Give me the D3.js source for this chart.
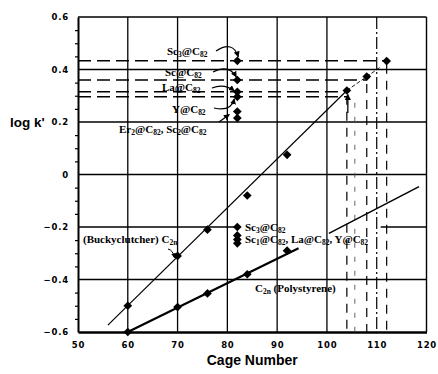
<!DOCTYPE html>
<html><head><meta charset="utf-8">
<script src="https://cdn.jsdelivr.net/npm/d3@7"></script>
<style>body{margin:0;background:#fff}svg{display:block}</style>
</head><body>
<svg id="c" width="438" height="374"></svg>
<script>
// ---- data ----
const xTicks = [50, 60, 70, 80, 90, 100, 110, 120];
const yTicks = [-0.6, -0.4, -0.2, 0, 0.2, 0.4, 0.6];
const cageBucky = [60, 70, 76, 84, 92];
const logkBucky = [-0.5, -0.31, -0.21, -0.08, 0.075];
const cagePoly = [60, 70, 76, 84, 92];
const logkPoly = [-0.6, -0.505, -0.453, -0.38, -0.29];
const metalCage = 82;
const metalBucky = [0.433, 0.36, 0.315, 0.296, 0.24, 0.215];
const metalPoly = [-0.2, -0.232, -0.248, -0.262];
const projCage = [112, 108, 104, 104];
const projLogk = [0.433, 0.36, 0.315, 0.296];
const fitBucky = [[56, -0.574], [104, 0.32]];
const fitBuckyExt = [[104, 0.32], [110.8, 0.41]];
const fitPoly = [[60, -0.6], [94.3, -0.281]];
const fitPolyExt = [[100.4, -0.224], [118.5, -0.046]];
const labelsBucky = ["Sc_{3}@C_{82}", "Sc@C_{82}", "La@C_{82}", "Y@C_{82}", "Er_{2}@C_{82}, Sc_{2}@C_{82}"];
const labelsPoly = ["Sc_{3}@C_{82}", "Sc_{1}@C_{82}, La@C_{82}, Y@C_{82}"];
const seriesLabels = ["(Buckyclutcher) C_{2n}", "C_{2n} (Polystyrene)"];

// ---- chart ----
const svg = d3.select("#c");
const x = d3.scaleLinear().domain([50, 120]).range([78, 426.5]);
const y = d3.scaleLinear().domain([-0.6, 0.6]).range([332, 17]);
const serif = "'Liberation Serif','Times New Roman',serif";

const defs = svg.append("defs");
defs.append("marker").attr("id", "ah").attr("viewBox", "0 0 10 10")
  .attr("refX", 9).attr("refY", 5).attr("markerWidth", 5).attr("markerHeight", 5)
  .attr("orient", "auto-start-reverse")
  .append("path").attr("d", "M0,0L10,5L0,10z").attr("fill", "#000");

// gridlines
const g = svg.append("g");
xTicks.filter(t => t > 50 && t < 110).forEach(t => {
  g.append("line").attr("x1", x(t)).attr("x2", x(t)).attr("y1", y(0.6)).attr("y2", y(-0.6))
    .attr("stroke", "#000").attr("stroke-width", 1.3);
});
g.append("line").attr("x1", x(110)).attr("x2", x(110)).attr("y1", y(0.6)).attr("y2", y(-0.6))
  .attr("stroke", "#000").attr("stroke-width", 1.2).attr("stroke-dasharray", "12,3,2,3");
yTicks.filter(t => t > -0.6 && t < 0.6 && t !== -0.2).forEach(t => {
  g.append("line").attr("x1", x(50)).attr("x2", x(120)).attr("y1", y(t)).attr("y2", y(t))
    .attr("stroke", "#000").attr("stroke-width", 1.3);
});
// -0.2 gridline broken by the labels
[[50, metalCage], [110.8, 120]].forEach(([a, b]) => {
  g.append("line").attr("x1", x(a)).attr("x2", x(b)).attr("y1", y(-0.2)).attr("y2", y(-0.2))
    .attr("stroke", "#000").attr("stroke-width", 1.3);
});
// frame top/right
g.append("line").attr("x1", x(50)).attr("x2", x(120)).attr("y1", y(0.6)).attr("y2", y(0.6)).attr("stroke", "#000").attr("stroke-width", 1.6);
g.append("line").attr("x1", x(120)).attr("x2", x(120)).attr("y1", y(0.6)).attr("y2", y(-0.6)).attr("stroke", "#000").attr("stroke-width", 1.4);

// axes
const fmtY = d => d === 0 ? "0" : (d < 0 ? "\u2212" : "") + Math.abs(d).toFixed(1);
const ax = svg.append("g").attr("transform", `translate(${x(50)},0)`)
  .call(d3.axisLeft(y).tickValues(yTicks).tickSize(0).tickPadding(9).tickFormat(fmtY));
ax.select(".domain").attr("stroke-width", 2);
ax.selectAll("text").attr("font-family", "'DejaVu Sans',sans-serif").attr("font-weight", "bold")
  .attr("font-size", 8.5).attr("letter-spacing", 0.8).attr("fill", "#000");
svg.append("g").attr("transform", `translate(${x(50)},0)`)
  .call(d3.axisLeft(y).tickValues(d3.range(-0.55, 0.6, 0.05).filter(v => Math.abs(Math.round(v * 100)) % 20 !== 0)).tickSize(3).tickFormat(""))
  .call(s => s.select(".domain").remove())
  .selectAll("line").attr("stroke-width", 1.2);
const bx = svg.append("g").attr("transform", `translate(0,${y(-0.6)})`)
  .call(d3.axisBottom(x).tickValues(xTicks).tickSize(0).tickPadding(10).tickFormat(d3.format("d")));
bx.select(".domain").attr("stroke-width", 2.4);
bx.selectAll("text").attr("font-family", "'DejaVu Sans',sans-serif").attr("font-weight", "bold")
  .attr("font-size", 8.5).attr("letter-spacing", 0.8).attr("fill", "#000");

svg.append("text").attr("x", 10).attr("y", 127).text("log k'")
  .attr("font-family", "'Liberation Sans',Arial,sans-serif").attr("font-weight", "bold").attr("font-size", 13.5);
svg.append("text").attr("x", (x(50) + x(120)) / 2).attr("y", 365).attr("text-anchor", "middle").text("Cage Number")
  .attr("font-family", "'Liberation Sans',Arial,sans-serif").attr("font-weight", "bold").attr("font-size", 14);

// dashed projections
const dash = "13,6";
projCage.forEach((c, i) => {
  svg.append("line").attr("x1", x(50)).attr("x2", x(c)).attr("y1", y(projLogk[i])).attr("y2", y(projLogk[i]))
    .attr("stroke", "#000").attr("stroke-width", 1.5).attr("stroke-dasharray", dash);
});
[112, 108, 104].forEach((c, i) => {
  const v = projLogk[i];
  svg.append("line").attr("x1", x(c)).attr("x2", x(c)).attr("y1", y(v) + 4).attr("y2", y(-0.6))
    .attr("stroke", "#000").attr("stroke-width", 1.2).attr("stroke-dasharray", "9,7");
});
svg.append("line").attr("x1", x(105.6)).attr("x2", x(105.6)).attr("y1", y(0.296) + 6).attr("y2", y(-0.6))
  .attr("stroke", "#555").attr("stroke-width", 0.9).attr("stroke-dasharray", "5,9");
// arrow up to the 104 point
svg.append("line").attr("x1", x(104.2)).attr("x2", x(104.2)).attr("y1", y(0.234)).attr("y2", y(0.305))
  .attr("stroke", "#000").attr("stroke-width", 1.3).attr("marker-end", "url(#ah)");

// fit lines
const line = d3.line().x(d => x(d[0])).y(d => y(d[1]));
svg.append("path").attr("d", line(fitBucky)).attr("fill", "none").attr("stroke", "#000").attr("stroke-width", 1.2);
svg.append("path").attr("d", line(fitBuckyExt)).attr("fill", "none").attr("stroke", "#000").attr("stroke-width", 0.9).attr("stroke-dasharray", "4,2");
svg.append("path").attr("d", line(fitPoly)).attr("fill", "none").attr("stroke", "#000").attr("stroke-width", 2.2);
svg.append("path").attr("d", line(fitPolyExt)).attr("fill", "none").attr("stroke", "#000").attr("stroke-width", 1.5);

// markers
const sym = d3.symbol().type(d3.symbolSquare).size(38);
function pts(xs, ys) {
  svg.append("g").selectAll("path").data(ys).join("path")
    .attr("d", sym).attr("fill", "#000")
    .attr("transform", (d, i) => `translate(${x(Array.isArray(xs) ? xs[i] : xs)},${y(d)}) rotate(45)`);
}
pts(cageBucky, logkBucky);
pts(cagePoly, logkPoly);
pts(metalCage, metalBucky);
pts(metalCage, metalPoly);
pts([104, 108, 112], [0.32, 0.373, 0.432]);

// labels with subscripts
function label(str, px, py, size = 11) {
  const t = svg.append("text").attr("x", px).attr("y", py)
    .attr("font-family", serif).attr("font-weight", "bold").attr("font-size", size).attr("fill", "#000");
  const re = /_\{([^}]*)\}/g;
  let last = 0, m, shifted = false;
  while ((m = re.exec(str)) !== null) {
    if (m.index > last) t.append("tspan").attr("dy", shifted ? -2 : 0).text(str.slice(last, m.index)), shifted = false;
    t.append("tspan").attr("dy", shifted ? 0 : 2).attr("font-size", size * 0.68).text(m[1]);
    shifted = true;
    last = re.lastIndex;
  }
  if (last < str.length) t.append("tspan").attr("dy", shifted ? -2 : 0).text(str.slice(last));
  return t;
}
const px0 = x(metalCage);
label(labelsBucky[0], 167, 55);
label(labelsBucky[1], 165, 76);
label(labelsBucky[2], 162, 91);
label(labelsBucky[3], 172, 113);
label(labelsBucky[4], 119, 133);
label(seriesLabels[0], 83, 243);
label(labelsPoly[0], 245, 231);
label(labelsPoly[1], 245, 243);
label(seriesLabels[1], 255, 292);

// curved pointer arrows
function arrow(d, w = 1.2) {
  svg.append("path").attr("d", d).attr("fill", "none").attr("stroke", "#000").attr("stroke-width", w).attr("marker-end", "url(#ah)");
}
const p = v => y(v);
arrow(`M216,51 Q233,40 ${px0 + 1},${p(0.433) - 4}`);
arrow(`M213,72 Q229,64 ${px0 - 1},${p(0.36) - 3}`);
arrow(`M212,88 Q224,83 ${px0 - 3},${p(0.315) - 1}`);
arrow(`M214,108 Q231,112 ${px0 - 3},${p(0.296) + 2}`);
arrow(`M219,122 L${px0 - 8},${p(0.24) + 3}`);
arrow(`M168,249 Q173,250 ${x(70) - 3},${p(-0.31) + 2}`, 1);
</script>
</body></html>
